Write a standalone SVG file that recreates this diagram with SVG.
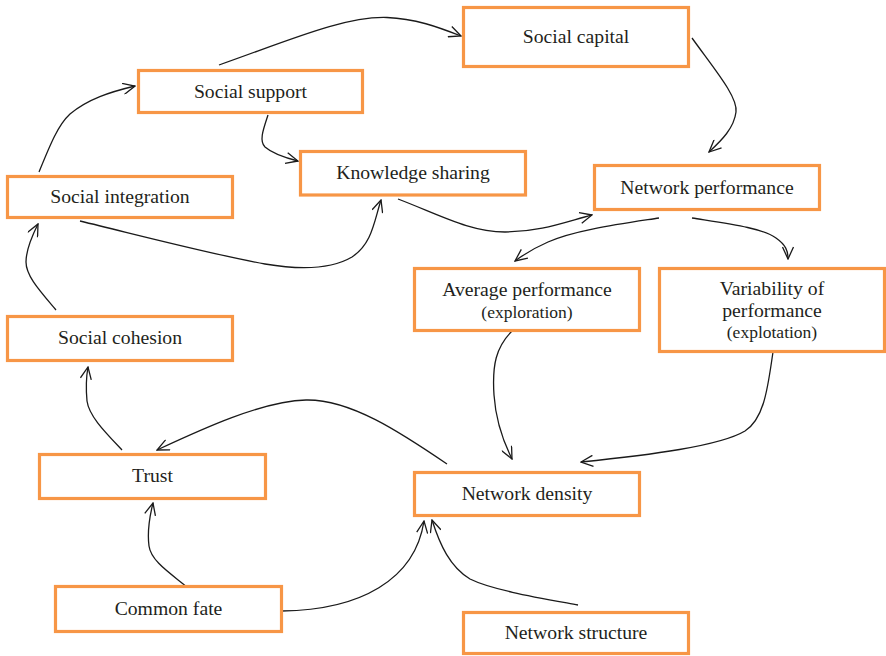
<svg xmlns="http://www.w3.org/2000/svg" width="886" height="656" viewBox="0 0 886 656">
  <style>
    .box { fill: #ffffff; stroke: #F79646; stroke-width: 3.2; }
    .lbl { font-family: "Liberation Serif", "Times New Roman", serif; font-size: 19.7px; fill: #231f20; text-anchor: middle; }
    .sub { font-size: 17.5px; }
    .edge { fill: none; stroke: #1a1a1a; stroke-width: 1.3; marker-end: url(#arrow); }
  </style>
  <defs>
    <!-- open V arrowhead shared by every connector -->
    <marker id="arrow" viewBox="0 0 14 12" refX="13" refY="6" markerWidth="14" markerHeight="12" markerUnits="userSpaceOnUse" orient="auto">
      <path d="M1,0.5 L13,6 L1,11.5" fill="none" stroke="#1a1a1a" stroke-width="1.3"/>
    </marker>
  </defs>

  <rect width="886" height="656" fill="#ffffff"/>

  <g id="connectors">
    <!-- Social support -> Social capital -->
    <path class="edge" d="M219,65 C 290,40 345,16 387,17.5 C 415,18.5 438,27 461,36"/>
    <!-- Social capital -> Network performance -->
    <path class="edge" d="M692,38 C 715,70 738,97 736,112 C 734,128 722,140 709,152"/>
    <!-- Social support -> Knowledge sharing -->
    <path class="edge" d="M268,115 C 263,130 259,141 265,147 C 273,154 286,158 298,161"/>
    <!-- Social integration -> Social support -->
    <path class="edge" d="M39,172 C 50,145 58,125 70,114 C 88,99 110,92 135,86"/>
    <!-- Social integration -> Knowledge sharing -->
    <path class="edge" d="M80,221 C 150,238 215,255 265,264 C 300,270 330,270 352,257 C 372,244 374,222 381,200"/>
    <!-- Knowledge sharing -> Network performance -->
    <path class="edge" d="M398,199 C 440,215 470,232 505,232 C 540,232 565,222 592,215"/>
    <!-- Network performance -> Average performance -->
    <path class="edge" d="M659,218 C 620,224 575,230 548,242 C 532,249 523,255 515,261"/>
    <!-- Network performance -> Variability of performance -->
    <path class="edge" d="M692,218 C 730,224 762,228 776,238 C 786,245 788,251 788,259"/>
    <!-- Average performance -> Network density -->
    <path class="edge" d="M512,331 C 496,347 492,365 494,395 C 496,425 505,445 512,459"/>
    <!-- Variability of performance -> Network density -->
    <path class="edge" d="M773,352 C 768,385 765,418 745,431 C 720,446 650,455 581,462"/>
    <!-- Network density -> Trust -->
    <path class="edge" d="M447,464 C 400,432 350,399 306,400 C 262,401 200,430 157,450"/>
    <!-- Trust -> Social cohesion -->
    <path class="edge" d="M122,450 C 105,432 89,416 87,401 C 86,390 86,378 88,367"/>
    <!-- Social cohesion -> Social integration -->
    <path class="edge" d="M56,310 C 40,291 26,276 26,262 C 26,250 32,236 38,224"/>
    <!-- Common fate -> Trust -->
    <path class="edge" d="M187,587 C 170,573 151,561 149,546 C 147,531 150,515 153,503"/>
    <!-- Common fate -> Network density -->
    <path class="edge" d="M282,611 C 360,610 415,580 424,521"/>
    <!-- Network structure -> Network density -->
    <path class="edge" d="M578,605 C 540,598 492,590 470,579 C 450,567 440,545 432,520"/>
  </g>

  <g id="social-capital">
    <rect class="box" x="463.5" y="7.5" width="225" height="59"/>
    <text class="lbl" x="576" y="43">Social capital</text>
  </g>
  <g id="social-support">
    <rect class="box" x="138.5" y="70.5" width="224" height="42"/>
    <text class="lbl" x="250.5" y="97.5">Social support</text>
  </g>
  <g id="knowledge-sharing">
    <rect class="box" x="300.5" y="151.5" width="225" height="43.5"/>
    <text class="lbl" x="413" y="179">Knowledge sharing</text>
  </g>
  <g id="network-performance">
    <rect class="box" x="594.5" y="165.5" width="225" height="44"/>
    <text class="lbl" x="707" y="193.5">Network performance</text>
  </g>
  <g id="social-integration">
    <rect class="box" x="7.5" y="176.5" width="225" height="41"/>
    <text class="lbl" x="120" y="203">Social integration</text>
  </g>
  <g id="average-performance">
    <rect class="box" x="414.5" y="268.5" width="225" height="62"/>
    <text class="lbl" x="527" y="296">Average performance</text>
    <text class="lbl sub" x="527" y="317.5">(exploration)</text>
  </g>
  <g id="variability-of-performance">
    <rect class="box" x="659.5" y="268.5" width="225" height="83"/>
    <text class="lbl" x="772" y="295">Variability of</text>
    <text class="lbl" x="772" y="316.5">performance</text>
    <text class="lbl sub" x="772" y="338">(explotation)</text>
  </g>
  <g id="social-cohesion">
    <rect class="box" x="7.5" y="316.5" width="225" height="44"/>
    <text class="lbl" x="120" y="344">Social cohesion</text>
  </g>
  <g id="trust">
    <rect class="box" x="39.5" y="454.5" width="226" height="44"/>
    <text class="lbl" x="152.5" y="482">Trust</text>
  </g>
  <g id="network-density">
    <rect class="box" x="414.5" y="472.5" width="225" height="43"/>
    <text class="lbl" x="527" y="499.5">Network density</text>
  </g>
  <g id="common-fate">
    <rect class="box" x="55.5" y="586.5" width="226" height="45"/>
    <text class="lbl" x="168.5" y="614.5">Common fate</text>
  </g>
  <g id="network-structure">
    <rect class="box" x="463.5" y="612.5" width="225" height="41"/>
    <text class="lbl" x="576" y="639">Network structure</text>
  </g>
</svg>
